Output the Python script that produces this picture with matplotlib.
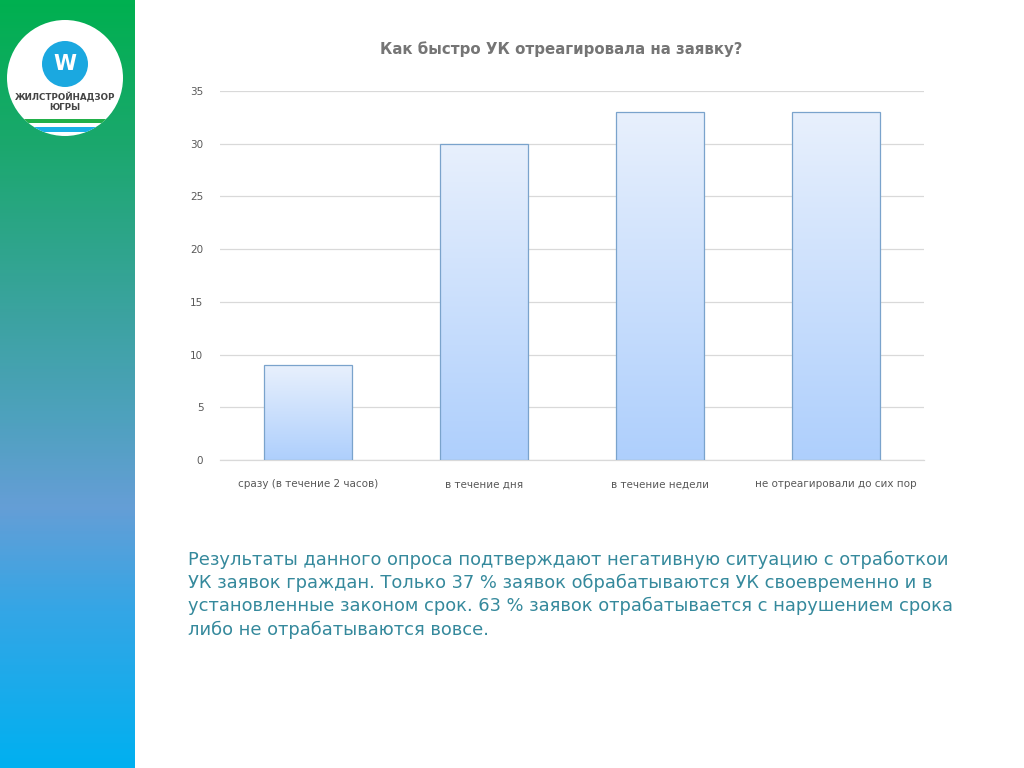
import matplotlib.pyplot as plt
import numpy as np
from matplotlib.colors import LinearSegmentedColormap
from matplotlib.patches import Circle, Rectangle

# chart data
categories = ["сразу (в течение 2 часов)", "в течение дня", "в течение недели",
              "не отреагировали до сих пор"]
values = [9, 30, 33, 33]
yticks = [0, 5, 10, 15, 20, 25, 30, 35]

title = "Как быстро УК отреагировала на заявку?"
summary = ("Результаты данного опроса подтверждают негативную ситуацию с отработкои\n"
           "УК заявок граждан. Только 37 % заявок обрабатываются УК своевременно и в\n"
           "установленные законом срок. 63 % заявок отрабатывается с нарушением срока\n"
           "либо не отрабатываются вовсе.")

fig = plt.figure(figsize=(10.24, 7.68), dpi=100)

# background layer: side gradient band + logo
bg = fig.add_axes([0, 0, 1, 1])
bg.set_xlim(0, 1024)
bg.set_ylim(768, 0)
bg.axis("off")
side = LinearSegmentedColormap.from_list(
    "side", [(0.0, "#00b050"), (0.18, "#1aa86c"), (0.4, "#3aa39e"),
             (0.55, "#4fa1bf"), (0.66, "#659ed6"), (0.8, "#33a6e6"),
             (1.0, "#00b0f0")])
grad = np.linspace(0, 1, 256).reshape(-1, 1)
bg.imshow(grad, cmap=side, extent=(0, 135, 768, 0), aspect="auto", zorder=0)

logo = Circle((65, 78), 58, facecolor="white", edgecolor="none", zorder=1)
bg.add_patch(logo)
stripe1 = Rectangle((0, 119), 140, 4, facecolor="#22b04a", zorder=2)
stripe2 = Rectangle((0, 127), 140, 5, facecolor="#1ab0e8", zorder=2)
stripe1.set_clip_path(logo)
stripe2.set_clip_path(logo)
bg.add_patch(stripe1)
bg.add_patch(stripe2)
bg.add_patch(Circle((65, 64), 23, facecolor="#1ba8e0", edgecolor="none", zorder=2))
bg.text(65, 64, "W", color="white", fontsize=15, fontweight="bold",
        ha="center", va="center", zorder=3)
bg.text(65, 97, "ЖИЛСТРОЙНАДЗОР", color="#444444", fontsize=6.3, fontweight="bold",
        ha="center", va="center", zorder=3)
bg.text(65, 107, "ЮГРЫ", color="#444444", fontsize=6.3, fontweight="bold",
        ha="center", va="center", zorder=3)

# chart
ax = fig.add_axes([220 / 1024, 1 - 460 / 768, 704 / 1024, 369 / 768])
x = np.arange(len(categories))
bars = ax.bar(x, values, width=0.5, color="none", edgecolor="#7aa3cc",
              linewidth=0.9, zorder=3)
bar_cmap = LinearSegmentedColormap.from_list("bar", ["#e8f0fd", "#aecffc"])
for b in bars:
    x0, y0 = b.get_x(), b.get_y()
    w, h = b.get_width(), b.get_height()
    im = ax.imshow(grad, cmap=bar_cmap, extent=(x0, x0 + w, y0, y0 + h),
                   aspect="auto", zorder=2)
    im.set_clip_path(b)

ax.set_xlim(-0.5, len(categories) - 0.5)
ax.set_ylim(0, 35)
ax.set_yticks(yticks)
ax.set_xticks(x)
ax.set_xticklabels(categories)
ax.tick_params(axis="both", length=0, labelsize=7.5, labelcolor="#595959")
ax.tick_params(axis="x", pad=14)
ax.tick_params(axis="y", pad=12)
ax.grid(axis="y", color="#d9d9d9", linewidth=0.9, zorder=0)
for s in ["top", "right", "left"]:
    ax.spines[s].set_visible(False)
ax.spines["bottom"].set_color("#d9d9d9")
ax.spines["bottom"].set_linewidth(0.9)

fig.text(561 / 1024, 1 - 49 / 768, title, ha="center", va="center",
         fontsize=10.8, fontweight="bold", color="#757575")

fig.text(188 / 1024, 1 - 551 / 768, summary, ha="left", va="top",
         fontsize=12.9, color="#35899c", linespacing=1.34)

fig.savefig("out.png", dpi=100)
